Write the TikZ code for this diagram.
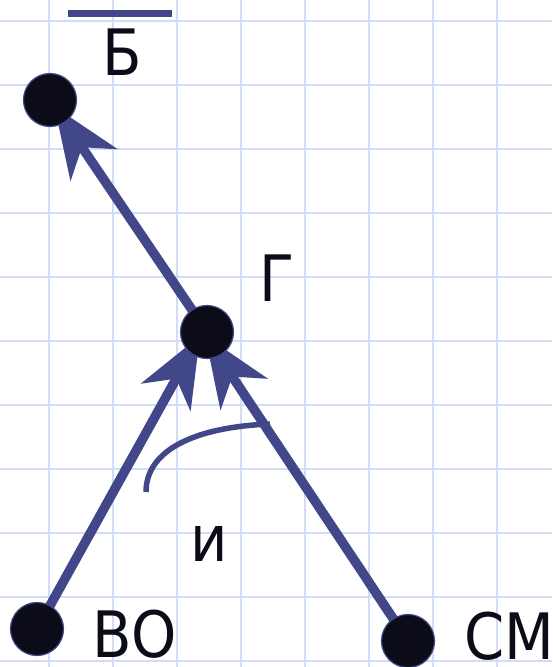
\documentclass[tikz,border=0pt]{standalone}
\usepackage{fontspec}
\setmainfont{DejaVu Sans}
\newfontfamily\lblfont[FakeStretch=0.9]{DejaVu Sans}
\usetikzlibrary{arrows.meta}
\definecolor{gridc}{HTML}{D0DCF8}
\definecolor{arrc}{HTML}{414789}
\definecolor{dotc}{HTML}{0C0C18}
\tikzset{
  dotnode/.style={circle, fill=dotc, draw=arrc, line width=1.2pt, minimum size=53pt, inner sep=0pt},
  lbl/.style={anchor=base west, inner sep=0pt, text=dotc, font=\lblfont\fontsize{64}{70}\selectfont},
  vec/.style={draw=arrc, line width=9.5pt, -{Stealth[length=70pt, width=56pt, inset=21pt]}},
}
\begin{document}
\begin{tikzpicture}[x=1pt, y=-1pt]
\useasboundingbox (0,0) rectangle (552,667);
\fill[white] (0,0) rectangle (552,667);
% grid
\foreach \gx in {49,113,...,497} \draw[gridc, line width=1.6pt] (\gx,0) -- (\gx,667);
\foreach \gy in {21,85,...,661} \draw[gridc, line width=1.6pt] (0,\gy) -- (552,\gy);
% dot positions
\coordinate (bpos) at (50,100);
\coordinate (gpos) at (207,332);
\coordinate (vopos) at (37,629);
\coordinate (smpos) at (408,641);
% arrows (under the dots)
\coordinate (gaim1) at (201,334);
\coordinate (gaim2) at (204,334);
\draw[vec, shorten >=2pt] (vopos) -- (gaim1);
\draw[vec, shorten >=2pt] (smpos) -- (gaim2);
\draw[vec, shorten >=8pt] (gpos) -- (bpos);
% dots
\node[dotnode] (b) at (bpos) {};
\node[dotnode] (g) at (gpos) {};
\node[dotnode] (vo) at (vopos) {};
\node[dotnode] (sm) at (smpos) {};
% arc
\coordinate (arcS) at (146,492);
\coordinate (arcE) at (270,424);
\draw[arrc, line width=5.5pt] (arcS) .. controls (146,450) and (195,427) .. (arcE);
% bar over Б
\coordinate (barL) at (68,13);
\coordinate (barR) at (172,13);
\draw[arrc, line width=7pt] (barL) -- (barR);
% labels
\node[lbl] (lb) at (102,75) {Б};
\node[lbl] (lg) at (259,301) {Г};
\node[lbl] (lvo) at (92,657) {ВО};
\node[lbl] (lsm) at (464,659) {СМ};
\node[lbl] (li) at (190,561) {и};
\end{tikzpicture}
\end{document}
